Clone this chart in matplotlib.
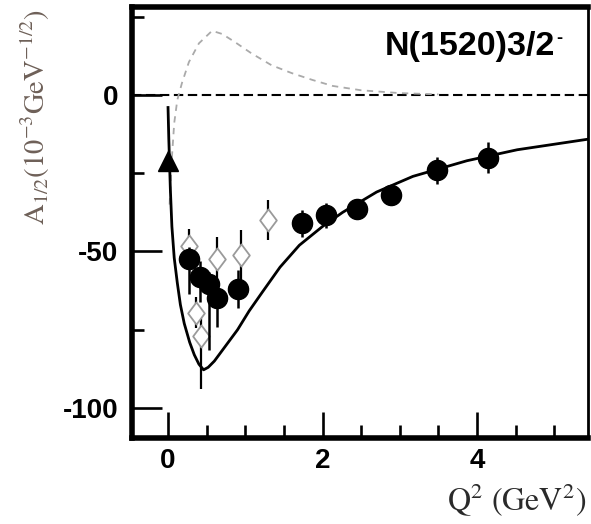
import matplotlib
matplotlib.use('Agg')
import matplotlib.pyplot as plt
from matplotlib.path import Path
from matplotlib.ticker import FixedLocator

plt.rcParams['mathtext.fontset'] = 'stix'
plt.rcParams['font.family'] = ['Liberation Sans', 'DejaVu Sans']

# ---------------- data ----------------
# filled circles
circ_q2 = [0.27, 0.42, 0.53, 0.64, 0.90, 1.73, 2.05, 2.44, 2.89, 3.48, 4.14]
circ_a = [-52.5, -58.0, -60.5, -65.0, -62.0, -41.0, -38.5, -36.5, -32.0, -24.0, -20.0]
circ_err_lo = [11, 8, 21, 9, 6, 4.3, 4, 2, 2, 4.3, 5]
circ_err_hi = [4, 5, 4, 5, 6, 4.3, 4, 2, 2, 4.3, 5]

# open diamonds
diam_q2 = [0.27, 0.64, 0.95, 1.30, 0.36, 0.43]
diam_a = [-48.3, -52.5, -51.0, -39.8, -69.5, -77.0]
diam_err_lo = [5.5, 7, 8, 6.4, 5, 17]
diam_err_hi = [5.5, 7, 8, 6.4, 5, 8]

# filled triangle (photon point)
tri_q2 = [0.0]
tri_a = [-21.0]

# solid model curve
solid_q2 = [0.0, 0.01, 0.03, 0.05, 0.08, 0.12, 0.16, 0.21, 0.28, 0.34, 0.40, 0.46,
            0.52, 0.60, 0.75, 0.90, 1.05, 1.22, 1.45, 1.70, 2.00, 2.26, 2.70,
            3.17, 3.87, 4.52, 5.47]
solid_a = [-4, -14, -30, -42, -52, -60, -67, -73, -79, -83, -86, -87.8,
           -87, -85, -80, -75, -69, -63, -55, -48, -42, -37.5, -31,
           -26, -21, -17.5, -14]

# grey dashed curve
dash_q2 = [0.02, 0.05, 0.08, 0.12, 0.18, 0.27, 0.40, 0.57, 0.70, 0.86, 1.08, 1.34,
           1.60, 1.87, 2.13, 2.50, 3.00, 3.50]
dash_a = [-35, -20, -9, -1.6, 3.8, 10.5, 16.5, 20.5, 19.5, 17, 13.3, 9.5,
          7, 4.8, 2.9, 1.5, 0.6, 0.2]

x_major = [0, 2, 4]
x_minor = [0.5, 1.0, 1.5, 2.5, 3.0, 3.5, 4.5, 5.0]
y_major = [-100, -50, 0]
y_minor = [-75, -25, 25]

# ---------------- figure ----------------
fig = plt.figure(figsize=(5.91, 5.24), dpi=100)
ax = fig.add_axes([0.2234, 0.164, 0.7716, 0.8226])
ax.set_xlim(-0.466, 5.437)
ax.set_ylim(-109.6, 28.1)

# zero line
ax.axhline(0, color='black', lw=1.5, dashes=(4.5, 2.2), zorder=1)

# curves
ax.plot(dash_q2, dash_a, color='#aaaaaa', lw=1.3, dashes=(3.5, 3), zorder=1.5)
ax.plot(solid_q2, solid_a, color='black', lw=2.0, zorder=2)

# diamonds
diamond = Path([(0, 1), (0.75, 0), (0, -1), (-0.75, 0), (0, 1)],
               [Path.MOVETO, Path.LINETO, Path.LINETO, Path.LINETO, Path.CLOSEPOLY])
ax.errorbar(diam_q2, diam_a, yerr=[diam_err_lo, diam_err_hi], fmt='none', ecolor='black',
            elinewidth=1.6, capsize=0, zorder=3)
ax.plot(diam_q2, diam_a, ls='none', marker=diamond, ms=16, mfc='white',
        mec='#9a9a9a', mew=1.3, zorder=4)

# circles
ax.errorbar(circ_q2, circ_a, yerr=[circ_err_lo, circ_err_hi], fmt='none', ecolor='black',
            elinewidth=1.8, capsize=0, zorder=5)
ax.plot(circ_q2, circ_a, ls='none', marker='o', ms=14.5, color='black', zorder=6)

# triangle
ax.plot(tri_q2, tri_a, ls='none', marker='^', ms=15, color='black', zorder=6)

# spines
for s in ['left', 'top', 'bottom']:
    ax.spines[s].set_linewidth(4)
ax.spines['right'].set_linewidth(2)

# ticks
ax.xaxis.set_major_locator(FixedLocator(x_major))
ax.xaxis.set_minor_locator(FixedLocator(x_minor))
ax.yaxis.set_major_locator(FixedLocator(y_major))
ax.yaxis.set_minor_locator(FixedLocator(y_minor))
ax.set_xticklabels([str(v) for v in x_major])
ax.set_yticklabels([str(v) for v in y_major])
ax.tick_params(axis='x', which='major', direction='in', length=19, width=1.9, pad=7,
               labelsize=20, top=False)
ax.tick_params(axis='x', which='minor', direction='in', length=9.5, width=1.9, top=False)
ax.tick_params(axis='y', which='major', direction='in', length=21.5, width=1.9, pad=10,
               labelsize=20, right=False)
ax.tick_params(axis='y', which='minor', direction='in', length=8.6, width=1.9, right=False)
for lab in ax.get_xticklabels() + ax.get_yticklabels():
    lab.set_fontweight('bold')

# labels
fig.text(35 / 591, 1 - 117 / 524, r'$\mathrm{A_{1/2}(10^{-3}GeV^{-1/2})}$',
         rotation=90, ha='center', va='center', fontsize=20.5, color='#6e6058')
fig.text(517 / 591, 1 - 500 / 524, r'$\mathrm{Q^2\ (GeV^2)}$',
         ha='center', va='center', fontsize=23, color='#2a2a2a')

# state label
t = fig.text(385 / 591, 1 - 55 / 524, 'N(1520)3/2', ha='left', va='baseline',
             fontsize=24.5, fontweight='bold', color='black')
ax.annotate('-', xy=(1, 1), xycoords=t, xytext=(0.4, 1), textcoords='offset points',
            ha='left', va='top', fontsize=13, fontweight='bold', color='black')

fig.savefig('out.png', dpi=100)
